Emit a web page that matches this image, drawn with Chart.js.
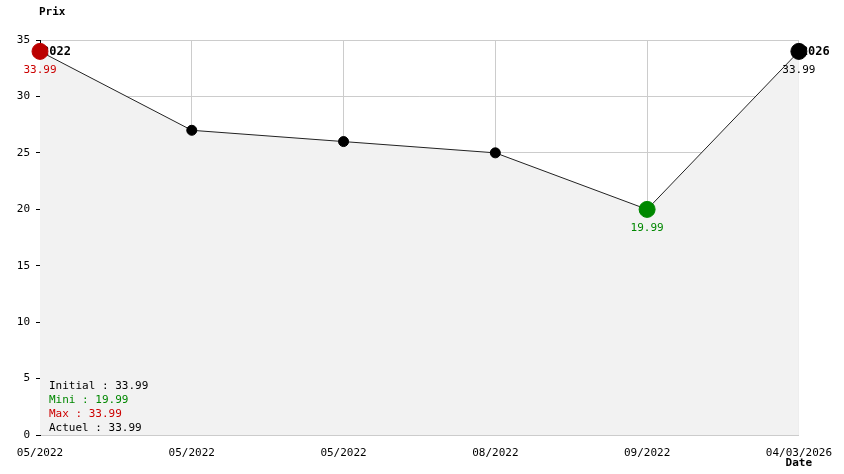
<!DOCTYPE html>
<html><head><meta charset="utf-8">
<script src="https://cdn.jsdelivr.net/npm/chart.js@4/dist/chart.umd.min.js"></script>
<style>body{margin:0;background:#fff}#w{width:844px;height:474px}</style>
</head><body><div id="w"><canvas id="c"></canvas></div>
<script>
const dates = ["05/2022","05/2022","05/2022","08/2022","09/2022","04/03/2026"];
const prices = [33.99,27,26,25,19.99,33.99];
const yTicks = [0,5,10,15,20,25,30,35];
const statsLines = [["Initial : 33.99","#000"],["Mini : 19.99","#008800"],["Max : 33.99","#cc0000"],["Actuel : 33.99","#000"]];
const FONT = "'DejaVu Sans Mono', monospace";
const ptColors = prices.map((v,i)=> i===0 ? "#bb0000" : (v===Math.min(...prices) ? "#008800" : "#000"));
const ptRadius = prices.map((v,i)=> (i===0||i===prices.length-1||v===Math.min(...prices)) ? 8 : 5);

const deco = {
  id:'deco',
  beforeDatasetsDraw(ch){
    const c=ch.ctx, m=ch.getDatasetMeta(0).data;
    c.save(); c.font="bold 12px "+FONT; c.fillStyle="#000"; c.textBaseline="middle"; c.textAlign="left";
    c.fillText("2022", m[0].x+2, m[0].y);
    c.fillText("2026", m[m.length-1].x+2, m[m.length-1].y);
    c.restore();
  },
  afterDatasetsDraw(ch){
    const c=ch.ctx, m=ch.getDatasetMeta(0).data, a=ch.chartArea;
    c.save(); c.font="11px "+FONT; c.textAlign="center"; c.textBaseline="top";
    const mi = prices.indexOf(Math.min(...prices));
    c.fillStyle="#cc0000"; c.fillText(prices[0].toFixed(2), m[0].x, m[0].y+13);
    c.fillStyle="#008800"; c.fillText(prices[mi].toFixed(2), m[mi].x, m[mi].y+13);
    const L=m.length-1; c.fillStyle="#000"; c.fillText(prices[L].toFixed(2), m[L].x, m[L].y+13);
    c.textAlign="left"; c.textBaseline="middle";
    statsLines.forEach((s,i)=>{c.fillStyle=s[1]; c.fillText(s[0], a.left+9, a.bottom-49+i*14);});
    c.font="bold 11px "+FONT; c.fillStyle="#000";
    c.fillText("Prix", 39, 12);
    c.textAlign="right"; c.fillText("Date", 812, 463);
    c.restore();
  }
};

new Chart(document.getElementById('c'),{
  type:'line',
  data:{labels:dates,datasets:[{data:prices,borderColor:"#222",borderWidth:1,fill:'origin',
    backgroundColor:"#f2f2f2",tension:0,pointBackgroundColor:ptColors,pointBorderColor:ptColors,
    pointRadius:ptRadius,pointHoverRadius:ptRadius,clip:false}]},
  options:{responsive:true,maintainAspectRatio:false,animation:false,
    layout:{padding:{left:0,top:40,right:40,bottom:0}},
    plugins:{legend:{display:false},tooltip:{enabled:false}},
    scales:{
      x:{offset:false,grid:{color:"#cccccc",tickLength:0,drawTicks:false},border:{color:"#cccccc"},
        ticks:{color:"#000",font:{family:FONT,size:11},padding:12,maxRotation:0,autoSkip:false},
        afterFit(s){s.height=39;}},
      y:{min:0,max:35,afterBuildTicks(s){s.ticks=yTicks.map(v=>({value:v}));},
        grid:{color:"#cccccc",tickLength:4,tickColor:"#000"},border:{color:"#000"},
        ticks:{color:"#000",font:{family:FONT,size:11},padding:6},
        afterFit(s){s.width=40;}}
    }},
  plugins:[deco]
});
</script></body></html>
